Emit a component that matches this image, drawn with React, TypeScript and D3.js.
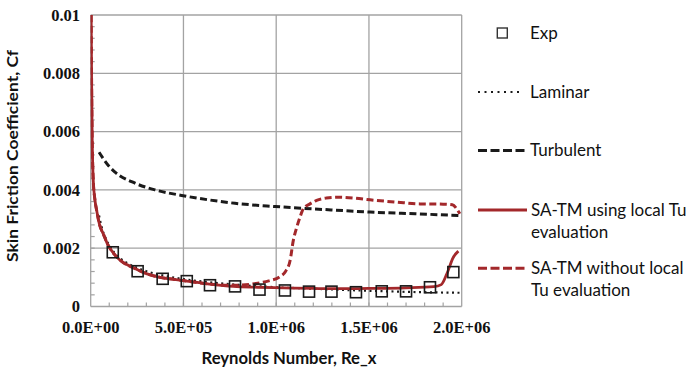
import React from "react";
import * as d3 from "d3";

// Experimental skin friction (Re_x, Cf)
const expRe = [119000, 253000, 388000, 518000, 643000, 778000, 910000, 1047000, 1177000, 1298000, 1430000, 1569000, 1700000, 1829000, 1955000];
const expCf = [0.00186, 0.00121, 0.00095, 0.00087, 0.00073, 0.00069, 0.00058, 0.00055, 0.00051, 0.00051, 0.00049, 0.00052, 0.00052, 0.00066, 0.00118];

// Laminar correlation
const lamRe = [45000, 60000, 80000, 100000, 150000, 200000, 300000, 400000, 500000, 600000, 800000, 1000000, 1200000, 1400000, 1600000, 1800000, 2000000];
const lamCf = [0.00312, 0.0027, 0.00235, 0.0021, 0.0017, 0.00148, 0.00121, 0.00105, 0.00094, 0.00086, 0.00074, 0.00066, 0.00061, 0.00056, 0.00052, 0.00049, 0.00047];

// Turbulent correlation
const turbRe = [45000, 95000, 131000, 239000, 347000, 490000, 634000, 778000, 994000, 1250000, 1506000, 1750000, 2000000];
const turbCf = [0.00529, 0.00484, 0.00461, 0.00423, 0.0040, 0.00381, 0.00366, 0.00354, 0.00343, 0.00333, 0.00324, 0.00318, 0.00312];

// SA-TM with local Tu evaluation
const localRe = [2500, 5000, 8000, 14000, 22000, 32000, 48000, 68000, 90000, 119000, 160000, 230000, 300000, 374000, 450000, 518000, 640000, 769000, 900000, 1040000, 1200000, 1310000, 1500000, 1700000, 1850000, 1890000, 1920000, 1955000, 1982000];
const localCf = [0.0100, 0.0076, 0.0058, 0.0043, 0.0037, 0.0033, 0.0028, 0.00249, 0.00215, 0.00186, 0.00158, 0.00133, 0.00113, 0.001, 0.00093, 0.00087, 0.00077, 0.00069, 0.00066, 0.00064, 0.00062, 0.00061, 0.00062, 0.00064, 0.00068, 0.00075, 0.00112, 0.00169, 0.0019];

// SA-TM without local Tu evaluation
const globalRe = [2500, 5000, 8000, 14000, 22000, 32000, 48000, 68000, 90000, 119000, 160000, 230000, 300000, 374000, 450000, 518000, 640000, 770000, 900000, 960000, 1020000, 1050000, 1075000, 1092000, 1110000, 1128000, 1146000, 1182000, 1218000, 1270000, 1326000, 1420000, 1506000, 1650000, 1775000, 1900000, 1950000, 1973000, 1990000];
const globalCf = [0.0100, 0.0076, 0.0058, 0.0043, 0.0037, 0.0033, 0.0028, 0.00249, 0.00215, 0.00186, 0.00158, 0.00133, 0.00113, 0.001, 0.00093, 0.00087, 0.00077, 0.00073, 0.0008, 0.00088, 0.00102, 0.0012, 0.00158, 0.00226, 0.0027, 0.00306, 0.00335, 0.00352, 0.00364, 0.00372, 0.00375, 0.00372, 0.00366, 0.00358, 0.00352, 0.00351, 0.00349, 0.00335, 0.00318];

const xTicks = [0, 500000, 1000000, 1500000, 2000000];
const xTickLabels = ["0.0E+00", "5.0E+05", "1.0E+06", "1.5E+06", "2.0E+06"];
const yTicks = [0, 0.002, 0.004, 0.006, 0.008, 0.01];
const yTickLabels = ["0", "0.002", "0.004", "0.006", "0.008", "0.01"];

const W = 689;
const H = 371;
const RED = "#a3282b";
const GRID = "#a3a3a3";

export default function App() {
  const x = d3.scaleLinear().domain([0, 2000000]).range([90.7, 461.7]);
  const y = d3.scaleLinear().domain([0, 0.01]).range([306.5, 15]);

  const line = (re: number[], cf: number[]) =>
    d3
      .line<number>()
      .x((i) => x(re[i]))
      .y((i) => y(cf[i]))
      .curve(d3.curveMonotoneX)(d3.range(re.length)) || "";

  const xMinor = d3.range(100000, 2000000, 100000);
  const yMinor = d3.range(1, 25).map((k) => k * 0.0004);

  const tickFont = "'Liberation Serif', serif";
  const sansFont = "Lato, 'Open Sans', sans-serif";

  const legendX0 = 478;
  const legendTextX = 531;

  return (
    <svg width={W} height={H} style={{ position: "absolute", left: 0, top: 0, background: "#fff" }}>
      <defs>
        <clipPath id="plot-clip">
          <rect x={x(0)} y={y(0.01)} width={x(2000000) - x(0)} height={y(0) - y(0.01)} />
        </clipPath>
      </defs>

      {/* grid */}
      {xTicks.slice(1).map((t) => (
        <line key={"gx" + t} x1={x(t)} x2={x(t)} y1={y(0)} y2={y(0.01)} stroke={GRID} strokeWidth={1.3} />
      ))}
      {yTicks.slice(1).map((t) => (
        <line key={"gy" + t} x1={x(0)} x2={x(2000000)} y1={y(t)} y2={y(t)} stroke={GRID} strokeWidth={1.3} />
      ))}
      {/* axes */}
      <line x1={x(0)} x2={x(2000000)} y1={y(0)} y2={y(0)} stroke={GRID} strokeWidth={1.3} />
      <line x1={x(0)} x2={x(0)} y1={y(0)} y2={y(0.01)} stroke={GRID} strokeWidth={1.3} />
      {xMinor.map((t) => (
        <line key={"mx" + t} x1={x(t)} x2={x(t)} y1={y(0)} y2={y(0) - 4} stroke={GRID} strokeWidth={1.2} />
      ))}
      {yMinor.map((t) => (
        <line key={"my" + t} x1={x(0)} x2={x(0) + 4} y1={y(t)} y2={y(t)} stroke={GRID} strokeWidth={1.2} />
      ))}

      {/* tick labels */}
      {yTicks.map((t, i) => (
        <text key={"yl" + t} x={80} y={y(t)} dy="0.35em" textAnchor="end" fontFamily={tickFont} fontWeight="bold" fontSize={16.5} fill="#111">
          {yTickLabels[i]}
        </text>
      ))}
      {xTicks.map((t, i) => (
        <text key={"xl" + t} x={x(t)} y={327} dy="0.35em" textAnchor="middle" fontFamily={tickFont} fontWeight="bold" fontSize={16.5} fill="#111">
          {xTickLabels[i]}
        </text>
      ))}

      {/* axis titles */}
      <text x={289} y={358} dy="0.35em" textAnchor="middle" fontFamily={sansFont} fontWeight="bold" fontSize={17.5} fill="#111" textLength={175} lengthAdjust="spacingAndGlyphs">
        Reynolds Number, Re_x
      </text>
      <text transform={`translate(12,156) rotate(-90)`} dy="0.35em" textAnchor="middle" fontFamily={sansFont} fontWeight="bold" fontSize={16} fill="#111" textLength={212} lengthAdjust="spacingAndGlyphs">
        Skin Friction Coefficient, Cf
      </text>

      {/* series */}
      <g clipPath="url(#plot-clip)" fill="none">
        <path d={line(lamRe, lamCf)} stroke="#1a1a1a" strokeWidth={2.2} strokeDasharray="2,3.5" />
        <path d={line(turbRe, turbCf)} stroke="#1a1a1a" strokeWidth={3} strokeDasharray="7,3.5" />
        <path d={line(globalRe, globalCf)} stroke={RED} strokeWidth={3} strokeDasharray="7,3.5" />
        <path d={line(localRe, localCf)} stroke={RED} strokeWidth={2.8} />
      </g>
      {expRe.map((r, i) => (
        <rect key={"e" + i} x={x(r) - 5.5} y={y(expCf[i]) - 5.5} width={11} height={11} fill="none" stroke="#1a1a1a" strokeWidth={1.6} />
      ))}

      {/* legend */}
      <g fontFamily={sansFont} fontSize={17} fill="#111">
        <rect x={502.3 - 5} y={33 - 5} width={10} height={10} fill="none" stroke="#333" strokeWidth={1.4} />
        <text x={legendTextX - 1} y={33} dy="0.35em">Exp</text>

        <line x1={legendX0} x2={521} y1={92} y2={92} stroke="#1a1a1a" strokeWidth={2.2} strokeDasharray="2,4.5" />
        <text x={legendTextX - 1} y={92} dy="0.35em">Laminar</text>

        <line x1={legendX0} x2={527} y1={150.5} y2={150.5} stroke="#1a1a1a" strokeWidth={3} strokeDasharray="9,3.5" />
        <text x={legendTextX - 1} y={150.5} dy="0.35em">Turbulent</text>

        <line x1={legendX0} x2={527} y1={210} y2={210} stroke={RED} strokeWidth={2.8} />
        <text x={legendTextX} y={210} dy="0.35em">SA-TM using local Tu</text>
        <text x={legendTextX} y={231.7} dy="0.35em">evaluation</text>

        <line x1={legendX0} x2={527} y1={268.3} y2={268.3} stroke={RED} strokeWidth={3} strokeDasharray="9,3.5" />
        <text x={legendTextX} y={268.3} dy="0.35em">SA-TM without local</text>
        <text x={legendTextX} y={290} dy="0.35em">Tu evaluation</text>
      </g>
    </svg>
  );
}
